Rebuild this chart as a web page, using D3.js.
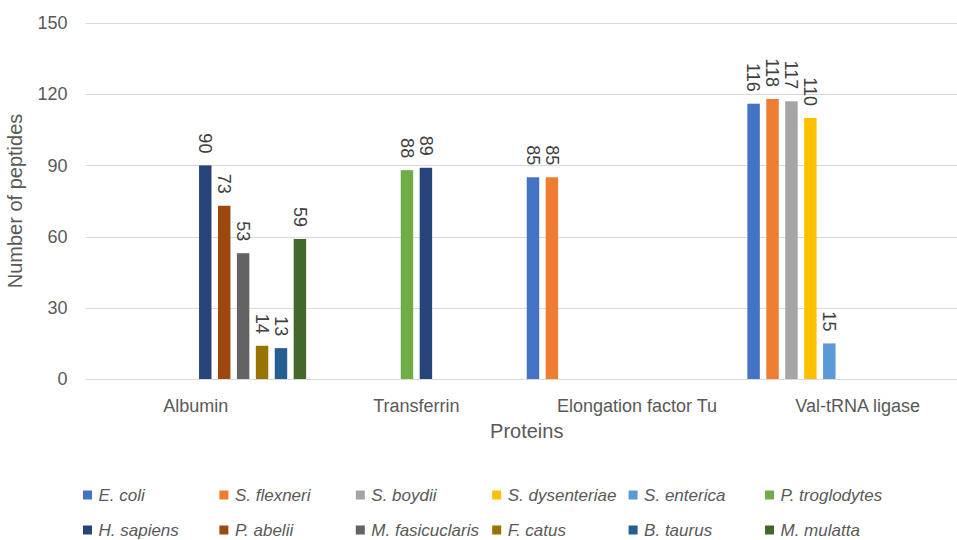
<!DOCTYPE html>
<html>
<head>
<meta charset="utf-8">
<script src="https://cdn.jsdelivr.net/npm/d3@7"></script>
<style>
  body { margin: 0; background: #fff; }
  text { font-family: "Liberation Sans", Arial, sans-serif; }
</style>
</head>
<body>
<div id="chart"></div>
<script>
// chart values
var proteins = ["Albumin", "Transferrin", "Elongation factor Tu", "Val-tRNA ligase"];
var species = ["E. coli", "S. flexneri", "S. boydii", "S. dysenteriae", "S. enterica", "P. troglodytes",
               "H. sapiens", "P. abelii", "M. fasicuclaris", "F. catus", "B. taurus", "M. mulatta"];
var colors = ["#4472C4", "#ED7D31", "#A5A5A5", "#FFC000", "#5B9BD5", "#70AD47",
              "#264478", "#9E480E", "#636363", "#997300", "#255E91", "#43682B"];
// one row per protein, one entry per species (null = no bar)
var albumin     = [null, null, null, null, null, null, 90, 73, 53, 14, 13, 59];
var transferrin = [null, null, null, null, null, 88, 89, null, null, null, null, null];
var elongation  = [85, 85, null, null, null, null, null, null, null, null, null, null];
var valtrna     = [116, 118, 117, 110, 15, null, null, null, null, null, null, null];
var yTicks = [0, 30, 60, 90, 120, 150];

var rows = [albumin, transferrin, elongation, valtrna];

var W = 957, H = 540,
    margin = {top: 23, left: 85.5, bottom: 161},
    plotRight = 968;

var svg = d3.select("#chart").append("svg").attr("width", W).attr("height", H);

var x0 = d3.scaleBand().domain(proteins).range([margin.left, plotRight]).padding(0);
var x1 = d3.scaleBand().domain(species).range([0, x0.bandwidth()]).paddingInner(0.342).paddingOuter(0);
var y = d3.scaleLinear().domain([0, 150]).range([H - margin.bottom, margin.top]);

// gridlines
svg.append("g").selectAll("line").data(yTicks).enter().append("line")
  .attr("x1", margin.left).attr("x2", plotRight)
  .attr("y1", function(d){ return Math.round(y(d)) + 0.5; })
  .attr("y2", function(d){ return Math.round(y(d)) + 0.5; })
  .attr("stroke", "#d9d9d9").attr("stroke-width", 1);

// y axis labels
var yAxis = svg.append("g")
  .attr("transform", "translate(" + (margin.left - 10) + ",0)")
  .call(d3.axisLeft(y).tickValues(yTicks).tickSize(0).tickPadding(8));
yAxis.select(".domain").remove();
yAxis.selectAll("text").attr("fill", "#595959").style("font-size", "18px")
  .style("font-family", "'Liberation Sans', Arial, sans-serif");

// x axis labels
var xAxis = svg.append("g")
  .attr("transform", "translate(0," + y(0) + ")")
  .call(d3.axisBottom(x0).tickSize(0).tickPadding(20));
xAxis.select(".domain").remove();
xAxis.selectAll("text").attr("fill", "#595959").style("font-size", "18px")
  .style("font-family", "'Liberation Sans', Arial, sans-serif");

// bars
var bars = [];
rows.forEach(function(r, i){
  r.forEach(function(v, j){
    if (v !== null) bars.push({protein: proteins[i], s: j, value: v});
  });
});

var g = svg.append("g");
g.selectAll("rect").data(bars).enter().append("rect")
  .attr("x", function(d){ return x0(d.protein) + x1(species[d.s]); })
  .attr("y", function(d){ return y(d.value); })
  .attr("width", x1.bandwidth())
  .attr("height", function(d){ return y(0) - y(d.value); })
  .attr("fill", function(d){ return colors[d.s]; });

// value labels, rotated
g.selectAll("text.val").data(bars).enter().append("text")
  .attr("class", "val")
  .attr("transform", function(d){
    var cx = x0(d.protein) + x1(species[d.s]) + x1.bandwidth() / 2;
    return "translate(" + cx + "," + (y(d.value) - 12) + ") rotate(90)";
  })
  .attr("dy", "0.35em")
  .style("text-anchor", "end")
  .style("font-size", "18px")
  .attr("fill", "#404040")
  .text(function(d){ return d.value; });

// axis titles
svg.append("text")
  .attr("transform", "translate(22," + (y(0) + y(150)) / 2 + ") rotate(-90)")
  .style("text-anchor", "middle").style("font-size", "20px").attr("fill", "#595959")
  .text("Number of peptides");

svg.append("text")
  .attr("x", (margin.left + plotRight) / 2).attr("y", 438)
  .style("text-anchor", "middle").style("font-size", "20px").attr("fill", "#595959")
  .text("Proteins");

// legend: two rows of six
var legend = svg.append("g").selectAll("g").data(species).enter().append("g")
  .attr("transform", function(d, i){
    return "translate(" + (83 + (i % 6) * 136.4) + "," + (i < 6 ? 495 : 530) + ")";
  });
legend.append("rect")
  .attr("x", 0).attr("y", -4.5).attr("width", 9).attr("height", 9)
  .attr("fill", function(d, i){ return colors[i]; });
legend.append("text")
  .attr("x", 15.5).attr("dy", "0.35em")
  .style("font-size", "17px").style("font-style", "italic")
  .attr("fill", "#595959")
  .text(function(d){ return d; });
</script>
</body>
</html>
